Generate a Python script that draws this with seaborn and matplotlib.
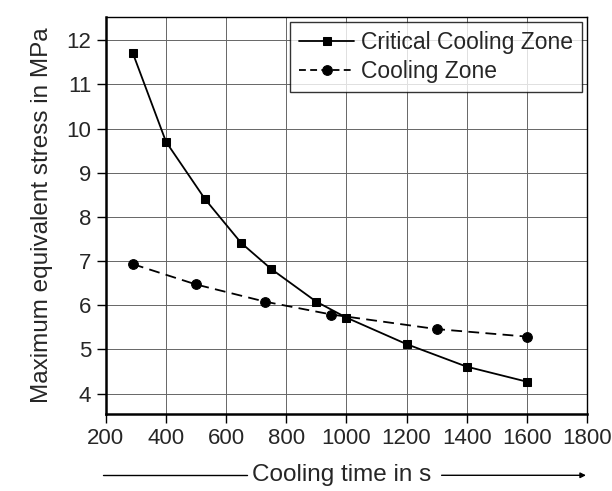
import pandas as pd
import matplotlib.pyplot as plt
import seaborn as sns

# --- Datos ---
critical_time = [290, 400, 530, 650, 750, 900, 1000, 1200, 1400, 1600]
critical_stress = [11.70, 9.70, 8.40, 7.41, 6.82, 6.08, 5.72, 5.12, 4.61, 4.27]

cooling_time = [290, 500, 730, 950, 1300, 1600]
cooling_stress = [6.93, 6.47, 6.08, 5.79, 5.46, 5.29]

x_ticks = [200, 400, 600, 800, 1000, 1200, 1400, 1600, 1800]
y_ticks = [4, 5, 6, 7, 8, 9, 10, 11, 12]

df_crit = pd.DataFrame({"time": critical_time, "stress": critical_stress})
df_cool = pd.DataFrame({"time": cooling_time, "stress": cooling_stress})

sns.set_style("white")
plt.rcParams['font.family'] = ['Liberation Sans', 'DejaVu Sans']

fig = plt.figure(figsize=(6.12, 4.91), dpi=100)
ax = fig.add_axes([0.173, 0.157, 0.786, 0.808])

sns.lineplot(data=df_crit, x="time", y="stress", ax=ax, color="black", linewidth=1.3,
             marker="s", markersize=6, markeredgecolor="black", label="Critical Cooling Zone")
sns.lineplot(data=df_cool, x="time", y="stress", ax=ax, color="black", linewidth=1.3,
             marker="o", markersize=7, markeredgecolor="black", label="Cooling Zone")
ax.lines[1].set_dashes([6, 3.5])

ax.set_xlim(200, 1800)
ax.set_ylim(3.54, 12.52)
ax.set_xticks(x_ticks)
ax.set_yticks(y_ticks)
ax.tick_params(axis="both", direction="out", length=6.5, width=1, color="black",
               labelsize=16, pad=4, bottom=True, left=True)
ax.grid(True, color="#666666", linewidth=0.7)
for side in ["left", "bottom"]:
    ax.spines[side].set_linewidth(1.8)
for side in ["right", "top"]:
    ax.spines[side].set_linewidth(1.0)
for s in ax.spines.values():
    s.set_color("black")

ax.set_xlabel("")
ax.set_ylabel("Maximum equivalent stress in MPa", fontsize=17.5, labelpad=10)

leg = ax.legend(loc="upper right", fontsize=16.5, frameon=True, fancybox=False,
                edgecolor="black", handlelength=2.4, handletextpad=0.3,
                borderpad=0.4, labelspacing=0.25, borderaxespad=0.2)
leg.get_frame().set_linewidth(1.0)
leg.get_lines()[1].set_dashes([3.8, 2.4])

# --- Etiqueta del eje x con flecha ---
y_lab = 0.032
fig.text(0.559, y_lab, "Cooling time in s", ha="center", va="center", fontsize=17.5)
fig.add_artist(plt.Line2D([0.168, 0.403], [y_lab, y_lab], color="black", linewidth=1.0))
ax.annotate("", xy=(0.962, y_lab), xytext=(0.717, y_lab), xycoords="figure fraction",
            arrowprops=dict(arrowstyle="-|>", color="black", linewidth=1.0, mutation_scale=8))

plt.savefig("out.png", dpi=100)
